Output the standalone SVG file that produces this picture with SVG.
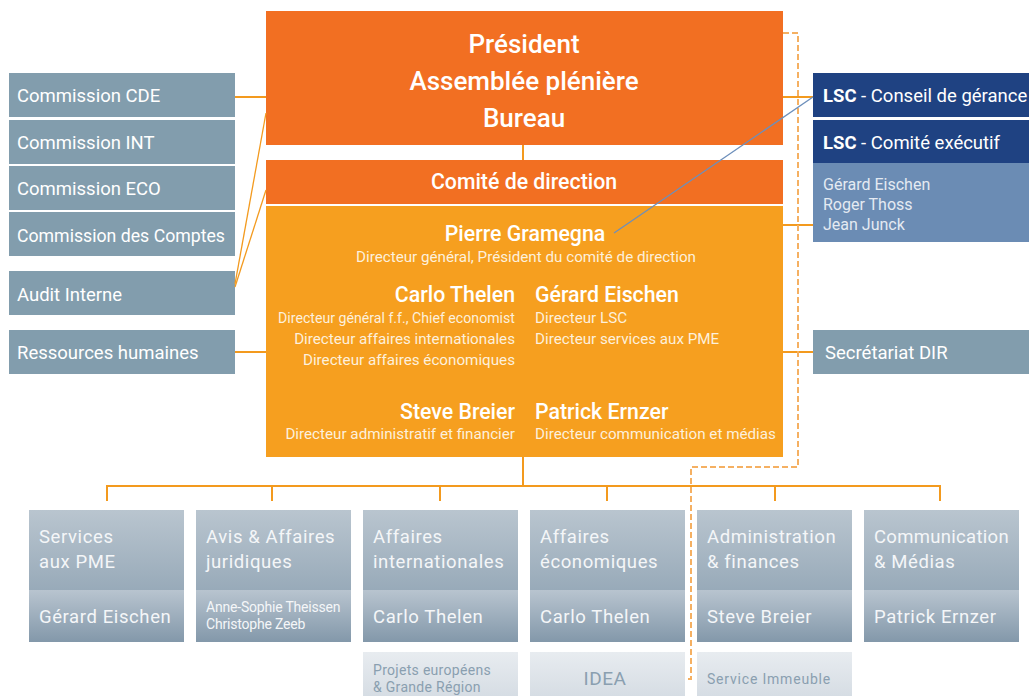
<svg xmlns="http://www.w3.org/2000/svg" width="1029" height="696" viewBox="0 0 1029 696">
<defs>
<linearGradient id="gTop" x1="0" y1="0" x2="0" y2="1"><stop offset="0" stop-color="#b9c5cf"/><stop offset="1" stop-color="#98aab9"/></linearGradient>
<linearGradient id="gBot" x1="0" y1="0" x2="0" y2="1"><stop offset="0" stop-color="#b8c4cf"/><stop offset="1" stop-color="#8398aa"/></linearGradient>
<linearGradient id="gSub" x1="0" y1="0" x2="0" y2="1"><stop offset="0" stop-color="#e8ecf0"/><stop offset="1" stop-color="#d6dde4"/></linearGradient>
<style>
text{font-family:Roboto,"Liberation Sans",sans-serif;}
.grey{fill:#829dad;}
.wt{fill:#ffffff;font-size:18.5px;}
.big{fill:#ffffff;font-size:26px;font-weight:500;text-anchor:middle;}
.nm{fill:#ffffff;font-size:21.3px;font-weight:500;}
.sm{fill:#fdf0dc;font-size:15.2px;}
.bt{fill:#f4f6f8;font-size:18.5px;letter-spacing:0.6px;}
.bts{fill:#f4f6f8;font-size:14px;letter-spacing:-0.2px;}
.sub{fill:#8a9fb0;font-size:14px;letter-spacing:0.3px;}
.idea{fill:#8a9fb0;font-size:19px;letter-spacing:0.5px;text-anchor:middle;}
.subs{fill:#8a9fb0;font-size:14px;letter-spacing:0.8px;}
.con{stroke:#f39a1e;stroke-width:2;fill:none;}
.thin{stroke:#f39a1e;stroke-width:1.3;fill:none;}
.dash{stroke:#f5b062;stroke-width:2;fill:none;stroke-dasharray:6 3;}
</style>
</defs>

<g id="commission-cde"><rect class="grey" x="9" y="73" width="226" height="44"/><text class="wt" x="17" y="102">Commission CDE</text></g>
<g id="commission-int"><rect class="grey" x="9" y="120" width="226" height="44"/><text class="wt" x="17" y="149">Commission INT</text></g>
<g id="commission-eco"><rect class="grey" x="9" y="166" width="226" height="44"/><text class="wt" x="17" y="195">Commission ECO</text></g>
<g id="commission-comptes"><rect class="grey" x="9" y="212" width="226" height="44"/><text class="wt" x="17" y="242" textLength="208" lengthAdjust="spacingAndGlyphs">Commission des Comptes</text></g>
<g id="audit-interne"><rect class="grey" x="9" y="271" width="226" height="44"/><text class="wt" x="17" y="301">Audit Interne</text></g>
<g id="ressources-humaines"><rect class="grey" x="9" y="330" width="226" height="44"/><text class="wt" x="17" y="359">Ressources humaines</text></g>

<g id="president">
<rect x="266" y="11" width="517" height="134" fill="#f26f22"/>
<text class="big" x="524" y="53">Président</text>
<text class="big" x="524" y="90">Assemblée plénière</text>
<text class="big" x="524" y="127">Bureau</text>
</g>

<g id="comite-direction">
<rect x="266" y="160" width="517" height="44" fill="#f26f22"/>
<text class="nm" x="524" y="189" text-anchor="middle">Comité de direction</text>
</g>

<g id="direction-members">
<rect x="266" y="206" width="517" height="251" fill="#f69f1f"/>
<text class="nm" x="525" y="241" text-anchor="middle">Pierre Gramegna</text>
<text class="sm" x="526" y="262" text-anchor="middle">Directeur général, Président du comité de direction</text>
<g text-anchor="end">
<text class="nm" x="515" y="302">Carlo Thelen</text>
<text class="sm" x="515" y="323" textLength="237" lengthAdjust="spacingAndGlyphs">Directeur général f.f., Chief economist</text>
<text class="sm" x="515" y="344">Directeur affaires internationales</text>
<text class="sm" x="515" y="365">Directeur affaires économiques</text>
<text class="nm" x="515" y="419">Steve Breier</text>
<text class="sm" x="515" y="439">Directeur administratif et financier</text>
</g>
<text class="nm" x="535" y="302">Gérard Eischen</text>
<text class="sm" x="535" y="323">Directeur LSC</text>
<text class="sm" x="535" y="344">Directeur services aux PME</text>
<text class="nm" x="535" y="419">Patrick Ernzer</text>
<text class="sm" x="535" y="439">Directeur communication et médias</text>
</g>

<g id="lsc-conseil">
<rect x="813" y="73" width="216" height="44" fill="#1f4282"/>
<text x="823" y="102" fill="#ffffff" font-size="18.5"><tspan font-weight="700">LSC</tspan> - Conseil de gérance</text>
</g>
<g id="lsc-comite">
<rect x="813" y="120" width="216" height="43" fill="#1f4282"/>
<text x="823" y="149" fill="#ffffff" font-size="18.5"><tspan font-weight="700">LSC</tspan> - Comité exécutif</text>
<rect x="813" y="163" width="216" height="79" fill="#6b8cb4"/>
<text x="823" y="190" fill="#e4eaf2" font-size="16">Gérard Eischen</text>
<text x="823" y="210" fill="#e4eaf2" font-size="16">Roger Thoss</text>
<text x="823" y="230" fill="#e4eaf2" font-size="16">Jean Junck</text>
</g>
<g id="secretariat-dir"><rect class="grey" x="813" y="330" width="216" height="44"/><text class="wt" x="825" y="359">Secrétariat DIR</text></g>

<g id="services-pme">
<rect x="29" y="510" width="155" height="80" fill="url(#gTop)"/>
<rect x="29" y="590" width="155" height="52" fill="url(#gBot)"/>
<text class="bt" x="39" y="543">Services</text><text class="bt" x="39" y="568">aux PME</text>
<text class="bt" x="39" y="623">Gérard Eischen</text>
</g>
<g id="avis-juridiques">
<rect x="196" y="510" width="155" height="80" fill="url(#gTop)"/>
<rect x="196" y="590" width="155" height="52" fill="url(#gBot)"/>
<text class="bt" x="206" y="543">Avis &amp; Affaires</text><text class="bt" x="206" y="568">juridiques</text>
<text class="bts" x="206" y="612">Anne-Sophie Theissen</text>
<text class="bts" x="206" y="629">Christophe Zeeb</text>
</g>
<g id="affaires-internationales">
<rect x="363" y="510" width="155" height="80" fill="url(#gTop)"/>
<rect x="363" y="590" width="155" height="52" fill="url(#gBot)"/>
<text class="bt" x="373" y="543">Affaires</text><text class="bt" x="373" y="568">internationales</text>
<text class="bt" x="373" y="623">Carlo Thelen</text>
</g>
<g id="affaires-economiques">
<rect x="530" y="510" width="155" height="80" fill="url(#gTop)"/>
<rect x="530" y="590" width="155" height="52" fill="url(#gBot)"/>
<text class="bt" x="540" y="543">Affaires</text><text class="bt" x="540" y="568">économiques</text>
<text class="bt" x="540" y="623">Carlo Thelen</text>
</g>
<g id="administration-finances">
<rect x="697" y="510" width="155" height="80" fill="url(#gTop)"/>
<rect x="697" y="590" width="155" height="52" fill="url(#gBot)"/>
<text class="bt" x="707" y="543">Administration</text><text class="bt" x="707" y="568">&amp; finances</text>
<text class="bt" x="707" y="623">Steve Breier</text>
</g>
<g id="communication-medias">
<rect x="864" y="510" width="155" height="80" fill="url(#gTop)"/>
<rect x="864" y="590" width="155" height="52" fill="url(#gBot)"/>
<text class="bt" x="874" y="543" style="letter-spacing:0.3px">Communication</text><text class="bt" x="874" y="568">&amp; Médias</text>
<text class="bt" x="874" y="623">Patrick Ernzer</text>
</g>

<g id="projets-europeens">
<rect x="363" y="652" width="155" height="44" fill="url(#gSub)"/>
<text class="sub" x="373" y="675">Projets européens</text>
<text class="sub" x="373" y="692">&amp; Grande Région</text>
</g>
<g id="idea">
<rect x="530" y="652" width="155" height="44" fill="url(#gSub)"/>
<text class="idea" x="605" y="685">IDEA</text>
</g>
<g id="service-immeuble">
<rect x="697" y="652" width="155" height="44" fill="url(#gSub)"/>
<text class="subs" x="707" y="684">Service Immeuble</text>
</g>

<g id="connectors">
<line class="con" x1="235" y1="97" x2="266" y2="97"/>
<line class="con" x1="235" y1="352" x2="266" y2="352"/>
<line class="thin" x1="235" y1="284" x2="266" y2="113"/>
<line class="thin" x1="235" y1="287" x2="266" y2="190"/>
<line class="con" x1="523" y1="145" x2="523" y2="160"/>
<line class="con" x1="783" y1="97" x2="813" y2="97"/>
<line class="con" x1="783" y1="225" x2="813" y2="225"/>
<line class="con" x1="783" y1="352" x2="813" y2="352"/>
<line class="con" x1="523" y1="457" x2="523" y2="486"/>
<path class="con" d="M107,501 V486 H940 V501"/>
<line class="con" x1="272" y1="486" x2="272" y2="501"/>
<line class="con" x1="440" y1="486" x2="440" y2="501"/>
<line class="con" x1="607" y1="486" x2="607" y2="501"/>
<line class="con" x1="775" y1="486" x2="775" y2="501"/>
<path class="dash" d="M783,33 H798 V467 H691 V679 H685"/>
<line stroke="#6d8fbb" stroke-width="1.3" x1="614" y1="233" x2="813" y2="97"/>
</g>
</svg>
